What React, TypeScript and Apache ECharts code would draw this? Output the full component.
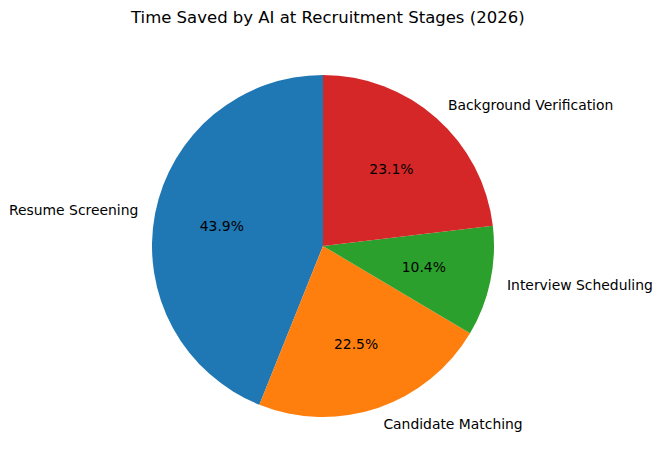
import React, { useEffect, useRef } from "react";
import * as echarts from "echarts";

const stages = ["Resume Screening", "Candidate Matching", "Interview Scheduling", "Background Verification"];
const hoursSaved = [76, 39, 18, 40];
const colors = ["#1f77b4", "#ff7f0e", "#2ca02c", "#d62728"];
const titleText = "Time Saved by AI at Recruitment Stages (2026)";

export default function App() {
  const ref = useRef<HTMLDivElement>(null);
  useEffect(() => {
    if (!ref.current) return;
    const chart = echarts.init(ref.current, null, { renderer: "svg" });
    const R = 171;
    const center = [323, 246];
    const data = stages.map((s, i) => ({ name: s, value: hoursSaved[i], itemStyle: { color: colors[i] } }));
    const font = "DejaVu Sans";
    chart.setOption({
      animation: false,
      backgroundColor: "#ffffff",
      title: {
        text: titleText,
        left: 126,
        top: 4,
        textStyle: { fontFamily: font, fontSize: 16.5, fontWeight: "normal", color: "#000" },
      },
      series: [
        {
          type: "pie",
          center,
          radius: [0, R],
          startAngle: 90,
          clockwise: false,
          avoidLabelOverlap: false,
          silent: true,
          data,
          label: {
            show: true,
            position: "outside",
            formatter: "{b}",
            fontFamily: font,
            fontSize: 13.9,
            color: "#000",
            distanceToLabelLine: 0,
          },
          labelLine: { show: false, length: R * 0.1, length2: 0 },
        },
        {
          type: "pie",
          center,
          radius: [0, R * 1.17],
          startAngle: 90,
          clockwise: false,
          avoidLabelOverlap: false,
          silent: true,
          data: stages.map((s, i) => ({ name: s, value: hoursSaved[i] })),
          itemStyle: { color: "rgba(0,0,0,0)" },
          label: {
            show: true,
            position: "inside",
            formatter: (p: any) => p.percent.toFixed(1) + "%",
            fontFamily: font,
            fontSize: 13.9,
            color: "#000",
          },
          labelLine: { show: false },
        },
      ],
    });
    return () => chart.dispose();
  }, []);
  return <div ref={ref} style={{ position: "fixed", left: 0, top: 0, width: 663, height: 470 }} />;
}
